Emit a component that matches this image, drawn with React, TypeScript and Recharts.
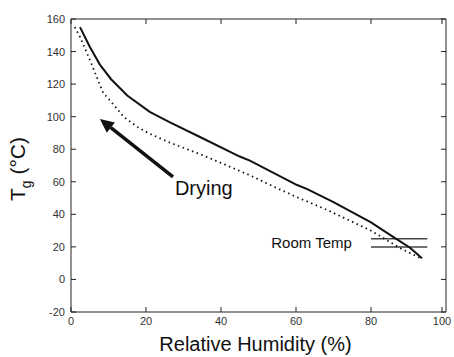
import {
  LineChart,
  Line,
  XAxis,
  YAxis,
  ReferenceLine,
  ReferenceDot,
} from "recharts";

const solidHumidity = [2.4, 5, 7.7, 10.7, 15, 21, 26.4, 34.4, 45, 47.7, 60.3, 63, 70, 80, 86, 90.4, 93.6];
const solidTg = [155, 143, 132, 123, 113, 103, 96.5, 87.5, 75.5, 73, 58, 55.5, 47.5, 35, 26, 19.5, 13];

const dottedHumidity = [1, 2.4, 5, 8.6, 10.4, 14, 17.5, 21, 26.4, 34.4, 41.6, 47.7, 55, 60.3, 68, 80, 87.7, 93.6];
const dottedTg = [155, 149, 135, 114.5, 110, 100, 94, 89.5, 84, 77, 70, 64, 56, 50.5, 43, 30, 19.3, 12.6];

const xTicks = [0, 20, 40, 60, 80, 100];
const yTicks = [-20, 0, 20, 40, 60, 80, 100, 120, 140, 160];

const roomTempLevels = [20, 25];
const roomTempSpan = [80, 95];
const roomTempLabelAt = { x: 74.9, y: 19.3 };

const dryingArrowTail = { x: 27.2, y: 63 };
const dryingArrowTip = { x: 7.7, y: 98.6 };
const dryingLabelAt = { x: 27.7, y: 51.9 };

const solidData = solidHumidity.map((x, i) => ({ x, tg: solidTg[i] }));
const dottedData = dottedHumidity.map((x, i) => ({ x, tg: dottedTg[i] }));

const FONT = "'Liberation Sans', Arial, sans-serif";
const AXIS = "#222";
const TICK_TEXT = "#333";

const LeftTick = (props: any) => {
  const { x, y, payload } = props;
  return (
    <g>
      <line x1={x + 6} x2={x + 11} y1={y} y2={y} stroke={AXIS} />
      <text x={x} y={y} dy={4} textAnchor="end" fontSize={11} fill={TICK_TEXT} fontFamily={FONT}>
        {payload.value}
      </text>
    </g>
  );
};

const RightTick = (props: any) => {
  const { x, y } = props;
  return <line x1={x} x2={x - 5} y1={y} y2={y} stroke={AXIS} />;
};

const BottomTick = (props: any) => {
  const { x, y, payload } = props;
  return (
    <g>
      <line x1={x} x2={x} y1={y} y2={y - 5} stroke={AXIS} />
      <text x={x} y={y + 13} textAnchor="middle" fontSize={11} fill={TICK_TEXT} fontFamily={FONT}>
        {payload.value}
      </text>
    </g>
  );
};

const TopTick = (props: any) => {
  const { x, y } = props;
  return <line x1={x} x2={x} y1={y} y2={y + 5} stroke={AXIS} />;
};

const XLabel = (props: any) => {
  const { viewBox } = props;
  return (
    <text
      x={viewBox.x + viewBox.width / 2 - 3}
      y={viewBox.y + 39}
      textAnchor="middle"
      fontSize={20}
      fill="#111"
      fontFamily={FONT}
    >
      Relative Humidity (%)
    </text>
  );
};

const YLabel = () => {
  const cx = 25;
  const cy = 169;
  return (
    <text
      x={cx}
      y={cy}
      transform={`rotate(-90, ${cx}, ${cy})`}
      textAnchor="middle"
      fontSize={21}
      fill="#111"
      fontFamily={FONT}
    >
      T
      <tspan fontSize={14} dy={6}>g</tspan>
      <tspan dy={-6}> (°C)</tspan>
    </text>
  );
};

const Arrow = (props: any) => {
  const { x1, y1, x2, y2 } = props;
  const ang = Math.atan2(y2 - y1, x2 - x1);
  const len = 14;
  const half = 6.5;
  const bx = x2 - len * Math.cos(ang);
  const by = y2 - len * Math.sin(ang);
  const px = -Math.sin(ang) * half;
  const py = Math.cos(ang) * half;
  return (
    <g>
      <line x1={x1} y1={y1} x2={bx} y2={by} stroke="#111" strokeWidth={3.5} />
      <polygon points={`${x2},${y2} ${bx + px},${by + py} ${bx - px},${by - py}`} fill="#111" />
    </g>
  );
};

const TextAt = (text: string, size: number, anchor: "start" | "end") => (props: any) => (
  <text x={props.cx} y={props.cy} textAnchor={anchor} fontSize={size} fill="#111" fontFamily={FONT}>
    {text}
  </text>
);

export default function App() {
  return (
    <div style={{ position: "absolute", left: 0, top: 0, background: "#fff" }}>
      <LineChart width={454} height={357} margin={{ top: 18, right: 7, bottom: 0, left: 0 }}>
        <XAxis
          type="number"
          dataKey="x"
          domain={[0, 100]}
          ticks={xTicks}
          allowDataOverflow
          height={45}
          stroke={AXIS}
          tickLine={false}
          tickSize={0}
          tickMargin={0}
          tick={<BottomTick />}
          label={<XLabel />}
        />
        <XAxis
          xAxisId="top"
          orientation="top"
          type="number"
          dataKey="x"
          domain={[0, 100]}
          ticks={xTicks}
          allowDataOverflow
          height={1}
          stroke={AXIS}
          tickLine={false}
          tickSize={0}
          tickMargin={0}
          tick={<TopTick />}
        />
        <YAxis
          type="number"
          domain={[-20, 160]}
          ticks={yTicks}
          allowDataOverflow
          width={71}
          stroke={AXIS}
          tickLine={false}
          tickSize={0}
          tickMargin={6}
          tick={<LeftTick />}
          label={<YLabel />}
        />
        <YAxis
          yAxisId="right"
          orientation="right"
          type="number"
          domain={[-20, 160]}
          ticks={yTicks}
          allowDataOverflow
          width={1}
          stroke={AXIS}
          tickLine={false}
          tickSize={0}
          tickMargin={0}
          tick={<RightTick />}
        />
        {/* invisible copy so the frame axes on top/right get drawn */}
        <Line
          xAxisId="top"
          yAxisId="right"
          data={dottedData}
          dataKey="tg"
          stroke="none"
          dot={false}
          activeDot={false}
          isAnimationActive={false}
        />
        {roomTempLevels.map((level) => (
          <ReferenceLine
            key={level}
            segment={[
              { x: roomTempSpan[0], y: level },
              { x: roomTempSpan[1], y: level },
            ]}
            stroke="#444"
            strokeWidth={1.5}
          />
        ))}
        <ReferenceLine
          segment={[dryingArrowTail, dryingArrowTip]}
          shape={<Arrow />}
        />
        <ReferenceDot x={dryingLabelAt.x} y={dryingLabelAt.y} r={0} shape={TextAt("Drying", 20, "start")} />
        <ReferenceDot x={roomTempLabelAt.x} y={roomTempLabelAt.y} r={0} shape={TextAt("Room Temp", 15, "end")} />
        <Line
          data={dottedData}
          dataKey="tg"
          type="linear"
          stroke="#111"
          strokeWidth={1.8}
          strokeDasharray="1.5 3.5"
          dot={false}
          isAnimationActive={false}
        />
        <Line
          data={solidData}
          dataKey="tg"
          type="linear"
          stroke="#111"
          strokeWidth={2}
          dot={false}
          isAnimationActive={false}
        />
      </LineChart>
    </div>
  );
}
